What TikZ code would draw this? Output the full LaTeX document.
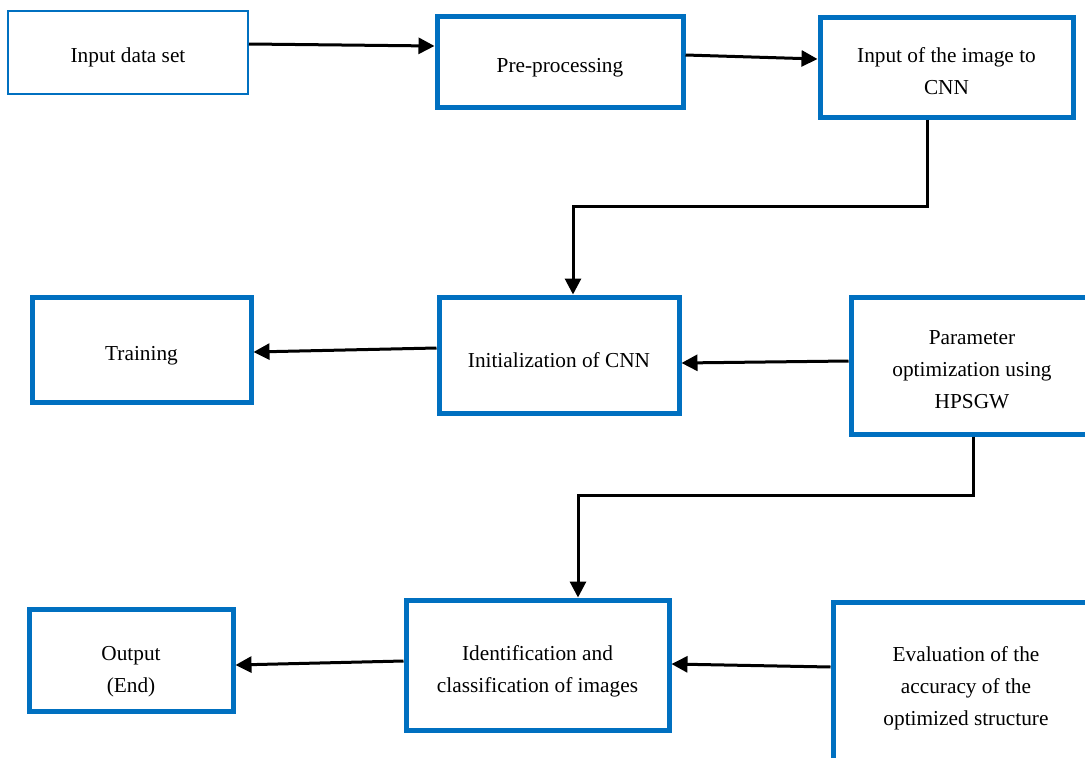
\documentclass[tikz,border=0pt]{standalone}
\usepackage{fontspec}
\setmainfont{Liberation Serif}
\usetikzlibrary{arrows.meta,calc}
\definecolor{boxblue}{HTML}{0070C0}
\begin{document}
\begin{tikzpicture}[x=1pt,y=-1pt,
  box/.style={draw=boxblue,line width=5pt,fill=white,inner sep=0pt},
  thinbox/.style={box,line width=2pt},
  txt/.style={align=center,inner sep=0pt,font=\fontsize{21.3}{32}\selectfont},
  arr/.style={line width=3pt,-{Triangle[length=16pt,width=16pt]}},
  conn/.style={line width=3pt}]
\useasboundingbox (0,0) rectangle (1085,758);
\clip (0,0) rectangle (1085,758);
\node[thinbox,minimum width=240pt,minimum height=83pt,
  label={[txt,yshift=-5pt]center:Input data set}] (in) at (128,52.5) {};
\node[box,minimum width=246pt,minimum height=91pt,
  label={[txt,yshift=-6pt]center:Pre-processing}] (pre) at (560,61.5) {};
\node[box,minimum width=253pt,minimum height=100pt,
  label={[txt,yshift=-4pt]center:Input of the image to\\CNN}] (cnn) at (946.5,67) {};
\node[box,minimum width=219pt,minimum height=105pt,
  label={[txt,yshift=-6pt]center:Training}] (train) at (141.5,349.5) {};
\node[box,minimum width=240pt,minimum height=116pt,
  label={[txt,yshift=-5pt]center:Initialization of CNN}] (init) at (559,355) {};
\node[box,minimum width=242pt,minimum height=137pt,
  label={[txt,yshift=-4pt]center:Parameter\\optimization using\\HPSGW}] (param) at (972,365.5) {};
\node[box,minimum width=204pt,minimum height=102pt,
  label={[txt,yshift=-12pt]center:Output\\(End)}] (out) at (131,660) {};
\node[box,minimum width=263pt,minimum height=130pt,
  label={[txt,yshift=-6pt]center:Identification and\\classification of images}] (ident) at (537.5,665) {};
\node[box,minimum width=266pt,minimum height=168pt,
  label={[txt,yshift=-2pt]center:Evaluation of the\\accuracy of the\\optimized structure}] (eval) at (966,686) {};
\coordinate (k1) at (573,206.5);
\coordinate (k2) at (578,495.5);
\draw[arr] ([yshift=8.5pt]in.east) -- ([yshift=15.5pt]pre.west);
\draw[arr] ([yshift=6.5pt]pre.east) -- ([yshift=8pt]cnn.west);
\draw[arr] ([xshift=-19.5pt]cnn.south) |- (k1) -- (k1 |- init.north);
\draw[arr] ([yshift=7pt]init.west) -- ([yshift=-2.5pt]train.east);
\draw[arr] ([yshift=4.5pt]param.west) -- ([yshift=-8pt]init.east);
\draw[arr] ([xshift=1pt]param.south) |- (k2) -- (k2 |- ident.north);
\draw[arr] ([yshift=19pt]eval.west) -- ([yshift=1pt]ident.east);
\draw[arr] ([yshift=4pt]ident.west) -- ([yshift=-5pt]out.east);
\end{tikzpicture}
\end{document}
